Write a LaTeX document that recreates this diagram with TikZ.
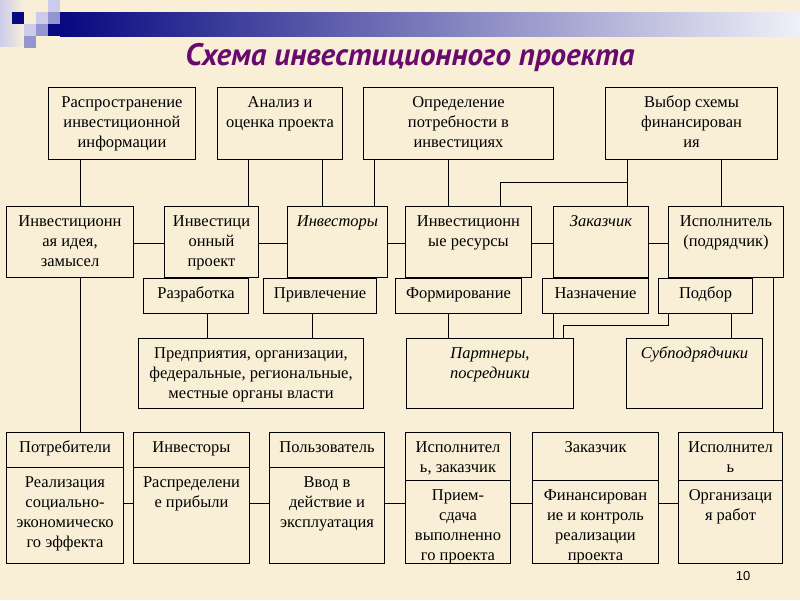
\documentclass[tikz,border=0pt]{standalone}
\usepackage{fontspec}
\setmainfont{Liberation Serif}
\newfontfamily\titlefont{PT Sans}
\newfontfamily\numfont{Liberation Sans}
\definecolor{bg}{RGB}{249,239,214}
\definecolor{navy}{RGB}{8,8,128}
\definecolor{medsq}{RGB}{148,148,206}
\definecolor{lightsq}{RGB}{204,204,234}
\definecolor{barend}{RGB}{240,240,248}
\definecolor{titlec}{RGB}{105,10,110}
\tikzset{
  boxst/.style={draw=black, line width=1pt, rectangle, inner sep=0pt},
  txt/.style={inner sep=0pt, align=center, font=\fontsize{16.5}{20}\selectfont},
  ln/.style={draw=black, line width=1pt},
}
\newcommand\bx[6]{%
  \node[boxst, minimum width={#4-#2}, minimum height={#5-#3}, anchor=north west] (#1) at (#2,#3) {};
  \node[txt, anchor=north] (#1-t) at ([yshift=-6.5pt]#1.north) {\strut #6};
}
\newcommand\bxx[8]{%
  \node[boxst, minimum width={#4-#2}, minimum height={#5-#3}, anchor=north west] (#1) at (#2,#3) {};
  \coordinate (#1-d) at (#2,#6);
  \draw[ln] (#1.west |- #1-d) -- (#1.east |- #1-d);
  \node[txt, anchor=north] (#1-t) at ([yshift=-6.5pt]#1.north) {\strut #7};
  \node[txt, anchor=north] (#1-b) at ([yshift=-6.5pt]#1.north |- #1-d) {\strut #8};
}
\begin{document}
\begin{tikzpicture}[x=1pt,y=-1pt]
\useasboundingbox (0,0) rectangle (800,600);
\fill[bg] (0,0) rectangle (800,600);
% top-left decoration
\shade[left color=lightsq, right color=bg, shading angle=90] (0,0) rectangle (24,46);
\fill[navy] (12,12) rectangle (24,24);
\fill[lightsq] (36,12) rectangle (48,24);
\fill[medsq] (48,12) rectangle (60,24);
\fill[lightsq] (48,0) rectangle (60,12);
\fill[lightsq] (24,24) rectangle (36,36);
\fill[medsq] (36,24) rectangle (48,36);
\fill[navy] (48,24) rectangle (60,36);
\fill[medsq] (24,36) rectangle (36,48);
\shade[left color=navy, right color=barend] (60,12) rectangle (800,36);
% title
\node[font=\titlefont\bfseries\itshape\fontsize{31}{36}\selectfont, text=titlec, anchor=base, inner sep=0pt] (title) at (410,65) {Схема инвестиционного проекта};
% row 1
\bx{R1a}{48}{87}{195}{159}{Распространение\\инвестиционной\\информации}
\bx{R1b}{217}{87}{342}{159}{Анализ и\\оценка проекта}
\bx{R1c}{363}{87}{553}{159}{Определение\\потребности в\\инвестициях}
\bx{R1d}{605}{87}{777}{159}{Выбор схемы\\финансирован\\ия}
% row 2
\bx{R2a}{6}{206}{133}{277}{Инвестиционн\\ая идея,\\замысел}
\bx{R2b}{164}{206}{258}{277}{Инвестици\\онный\\проект}
\bx{R2c}{287}{206}{387}{277}{\itshape Инвесторы}
\bx{R2d}{405}{206}{531}{277}{Инвестиционн\\ые ресурсы}
\bx{R2e}{553}{206}{648}{277}{\itshape Заказчик}
\bx{R2f}{668}{206}{783}{277}{Исполнитель\\(подрядчик)}
% row 3
\bx{R3a}{143}{278}{248}{313}{Разработка}
\bx{R3b}{263}{278}{376}{313}{Привлечение}
\bx{R3c}{395}{278}{521}{313}{Формирование}
\bx{R3d}{542}{278}{648}{313}{Назначение}
\bx{R3e}{658}{278}{752}{313}{Подбор}
% row 4
\bx{R4a}{138}{338}{363}{408}{Предприятия, организации,\\федеральные, региональные,\\местные органы власти}
\bx{R4b}{406}{338}{573}{408}{\itshape Партнеры,\\\itshape посредники}
\bx{R4c}{626}{338}{762}{408}{\itshape Субподрядчики}
% row 5
\bxx{R5a}{6}{432}{123}{563}{467}{Потребители}{Реализация\\социально-\\экономическо\\го эффекта}
\bxx{R5b}{133}{432}{249}{563}{467}{Инвесторы}{Распределени\\е прибыли}
\bxx{R5c}{269}{432}{384}{563}{467}{Пользователь}{Ввод в\\действие и\\эксплуатация}
\bxx{R5d}{405}{432}{510}{563}{480}{Исполнител\\ь, заказчик}{Прием-\\сдача\\выполненно\\го проекта}
\bxx{R5e}{532}{432}{658}{563}{480}{Заказчик}{Финансирован\\ие и контроль\\реализации\\проекта}
\bxx{R5f}{678}{432}{782}{563}{480}{Исполнител\\ь}{Организаци\\я работ}
% helper coordinates
\foreach \xx in {80,248,322,374,448,500,627,721,773,207,312,553,563,668,731}{\coordinate (c\xx) at (\xx,0);}
\coordinate (y182) at (0,182);
\coordinate (y243) at (0,243);
\coordinate (y325) at (0,325);
\coordinate (y503) at (0,503);
% connectors row1 -> row2
\draw[ln] (c80 |- R1a.south) -- (c80 |- R2a.north);
\draw[ln] (c248 |- R1b.south) -- (c248 |- R2b.north);
\draw[ln] (c322 |- R1b.south) -- (c322 |- R2c.north);
\draw[ln] (c374 |- R1c.south) -- (c374 |- R2c.north);
\draw[ln] (c448 |- R1c.south) -- (c448 |- R2d.north);
\draw[ln] (c627 |- R1d.south) -- (c627 |- R2e.north);
\draw[ln] (c627 |- y182) -| (c500 |- R2d.north);
\draw[ln] (c721 |- R1d.south) -- (c721 |- R2f.north);
% row 2 horizontal
\draw[ln] (R2a.east |- y243) -- (R2b.west |- y243);
\draw[ln] (R2b.east |- y243) -- (R2c.west |- y243);
\draw[ln] (R2c.east |- y243) -- (R2d.west |- y243);
\draw[ln] (R2d.east |- y243) -- (R2e.west |- y243);
\draw[ln] (R2e.east |- y243) -- (R2f.west |- y243);
% long verticals
\draw[ln] (c80 |- R2a.south) -- (c80 |- R5a.north);
\draw[ln] (c773 |- R2f.south) -- (c773 |- R5f.north);
% row3 -> row4
\draw[ln] (c207 |- R3a.south) -- (c207 |- R4a.north);
\draw[ln] (c312 |- R3b.south) -- (c312 |- R4a.north);
\draw[ln] (c448 |- R3c.south) -- (c448 |- R4b.north);
\draw[ln] (c553 |- R3d.south) -- (c553 |- R4b.north);
\draw[ln] (c668 |- R3e.south) -- (c668 |- y325) -| (c563 |- R4b.north);
\draw[ln] (c731 |- R3e.south) -- (c731 |- R4c.north);
% row 5 horizontal
\draw[ln] (R5a.east |- y503) -- (R5b.west |- y503);
\draw[ln] (R5b.east |- y503) -- (R5c.west |- y503);
\draw[ln] (R5c.east |- y503) -- (R5d.west |- y503);
\draw[ln] (R5d.east |- y503) -- (R5e.west |- y503);
\draw[ln] (R5e.east |- y503) -- (R5f.west |- y503);
% page number
\node[font=\numfont\fontsize{13}{15}\selectfont, anchor=base, inner sep=0pt] (pnum) at (743,580) {10};
\end{tikzpicture}
\end{document}
